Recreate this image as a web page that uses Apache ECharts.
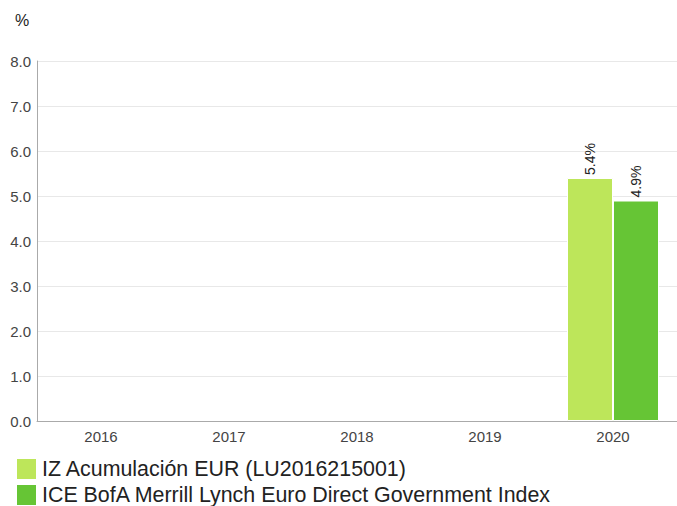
<!DOCTYPE html>
<html>
<head>
<meta charset="utf-8">
<script src="https://cdn.jsdelivr.net/npm/echarts@6/dist/echarts.min.js"></script>
<style>
  html, body { margin: 0; padding: 0; background: #fff; }
  #chart { width: 677px; height: 506px; }
</style>
</head>
<body>
<div id="chart"></div>
<script>
// ===== 数据 =====
const years = ['2016', '2017', '2018', '2019', '2020'];
const fundName = 'IZ Acumulación EUR (LU2016215001)';
const indexName = 'ICE BofA Merrill Lynch Euro Direct Government Index';
const fundValues = [null, null, null, null, 5.4];
const indexValues = [null, null, null, null, 4.9];

const chart = echarts.init(document.getElementById('chart'), null, { renderer: 'svg' });

const barLabel = {
  show: true,
  position: 'top',
  rotate: 90,
  align: 'left',
  verticalAlign: 'middle',
  distance: 3,
  color: '#222',
  fontSize: 14,
  formatter: function (p) { return p.value.toFixed(1) + '%'; }
};

// 图例：两行，各自一个组件
function legendAt(name, top) {
  return {
    orient: 'vertical',
    left: 15,
    top: top,
    padding: 0,
    itemWidth: 21,
    itemHeight: 22,
    itemGap: 0,
    icon: 'rect',
    textStyle: { fontSize: 21.4, color: '#222', padding: [0, 0, 0, 0] },
    data: [name]
  };
}

chart.setOption({
  animation: false,
  textStyle: { fontFamily: 'Liberation Sans, Arial, sans-serif' },
  title: {
    text: '%',
    left: 10,
    top: 7,
    textStyle: { fontSize: 16, fontWeight: 'normal', color: '#222' }
  },
  grid: { left: 37, right: 0, top: 61, bottom: 85 },
  legend: [legendAt(fundName, 457), legendAt(indexName, 483)],
  xAxis: {
    type: 'category',
    data: years,
    axisLine: { lineStyle: { color: '#aaa' } },
    axisTick: { show: false },
    axisLabel: { color: '#444', fontSize: 15, margin: 8 }
  },
  yAxis: {
    type: 'value',
    min: 0,
    max: 8,
    interval: 1,
    axisLine: { show: true, lineStyle: { color: '#aaa' } },
    axisTick: { show: false },
    splitLine: { lineStyle: { color: '#e8e8e8' } },
    axisLabel: {
      color: '#444',
      fontSize: 15,
      margin: 6,
      formatter: function (v) { return v.toFixed(1); }
    }
  },
  series: [
    {
      name: fundName,
      type: 'bar',
      data: fundValues,
      barWidth: 46,
      barGap: '0%',
      itemStyle: { color: '#bde65a', borderColor: '#fff', borderWidth: 1 },
      label: barLabel
    },
    {
      name: indexName,
      type: 'bar',
      data: indexValues,
      barWidth: 46,
      itemStyle: { color: '#66c535', borderColor: '#fff', borderWidth: 1 },
      label: barLabel
    }
  ]
});
</script>
</body>
</html>
